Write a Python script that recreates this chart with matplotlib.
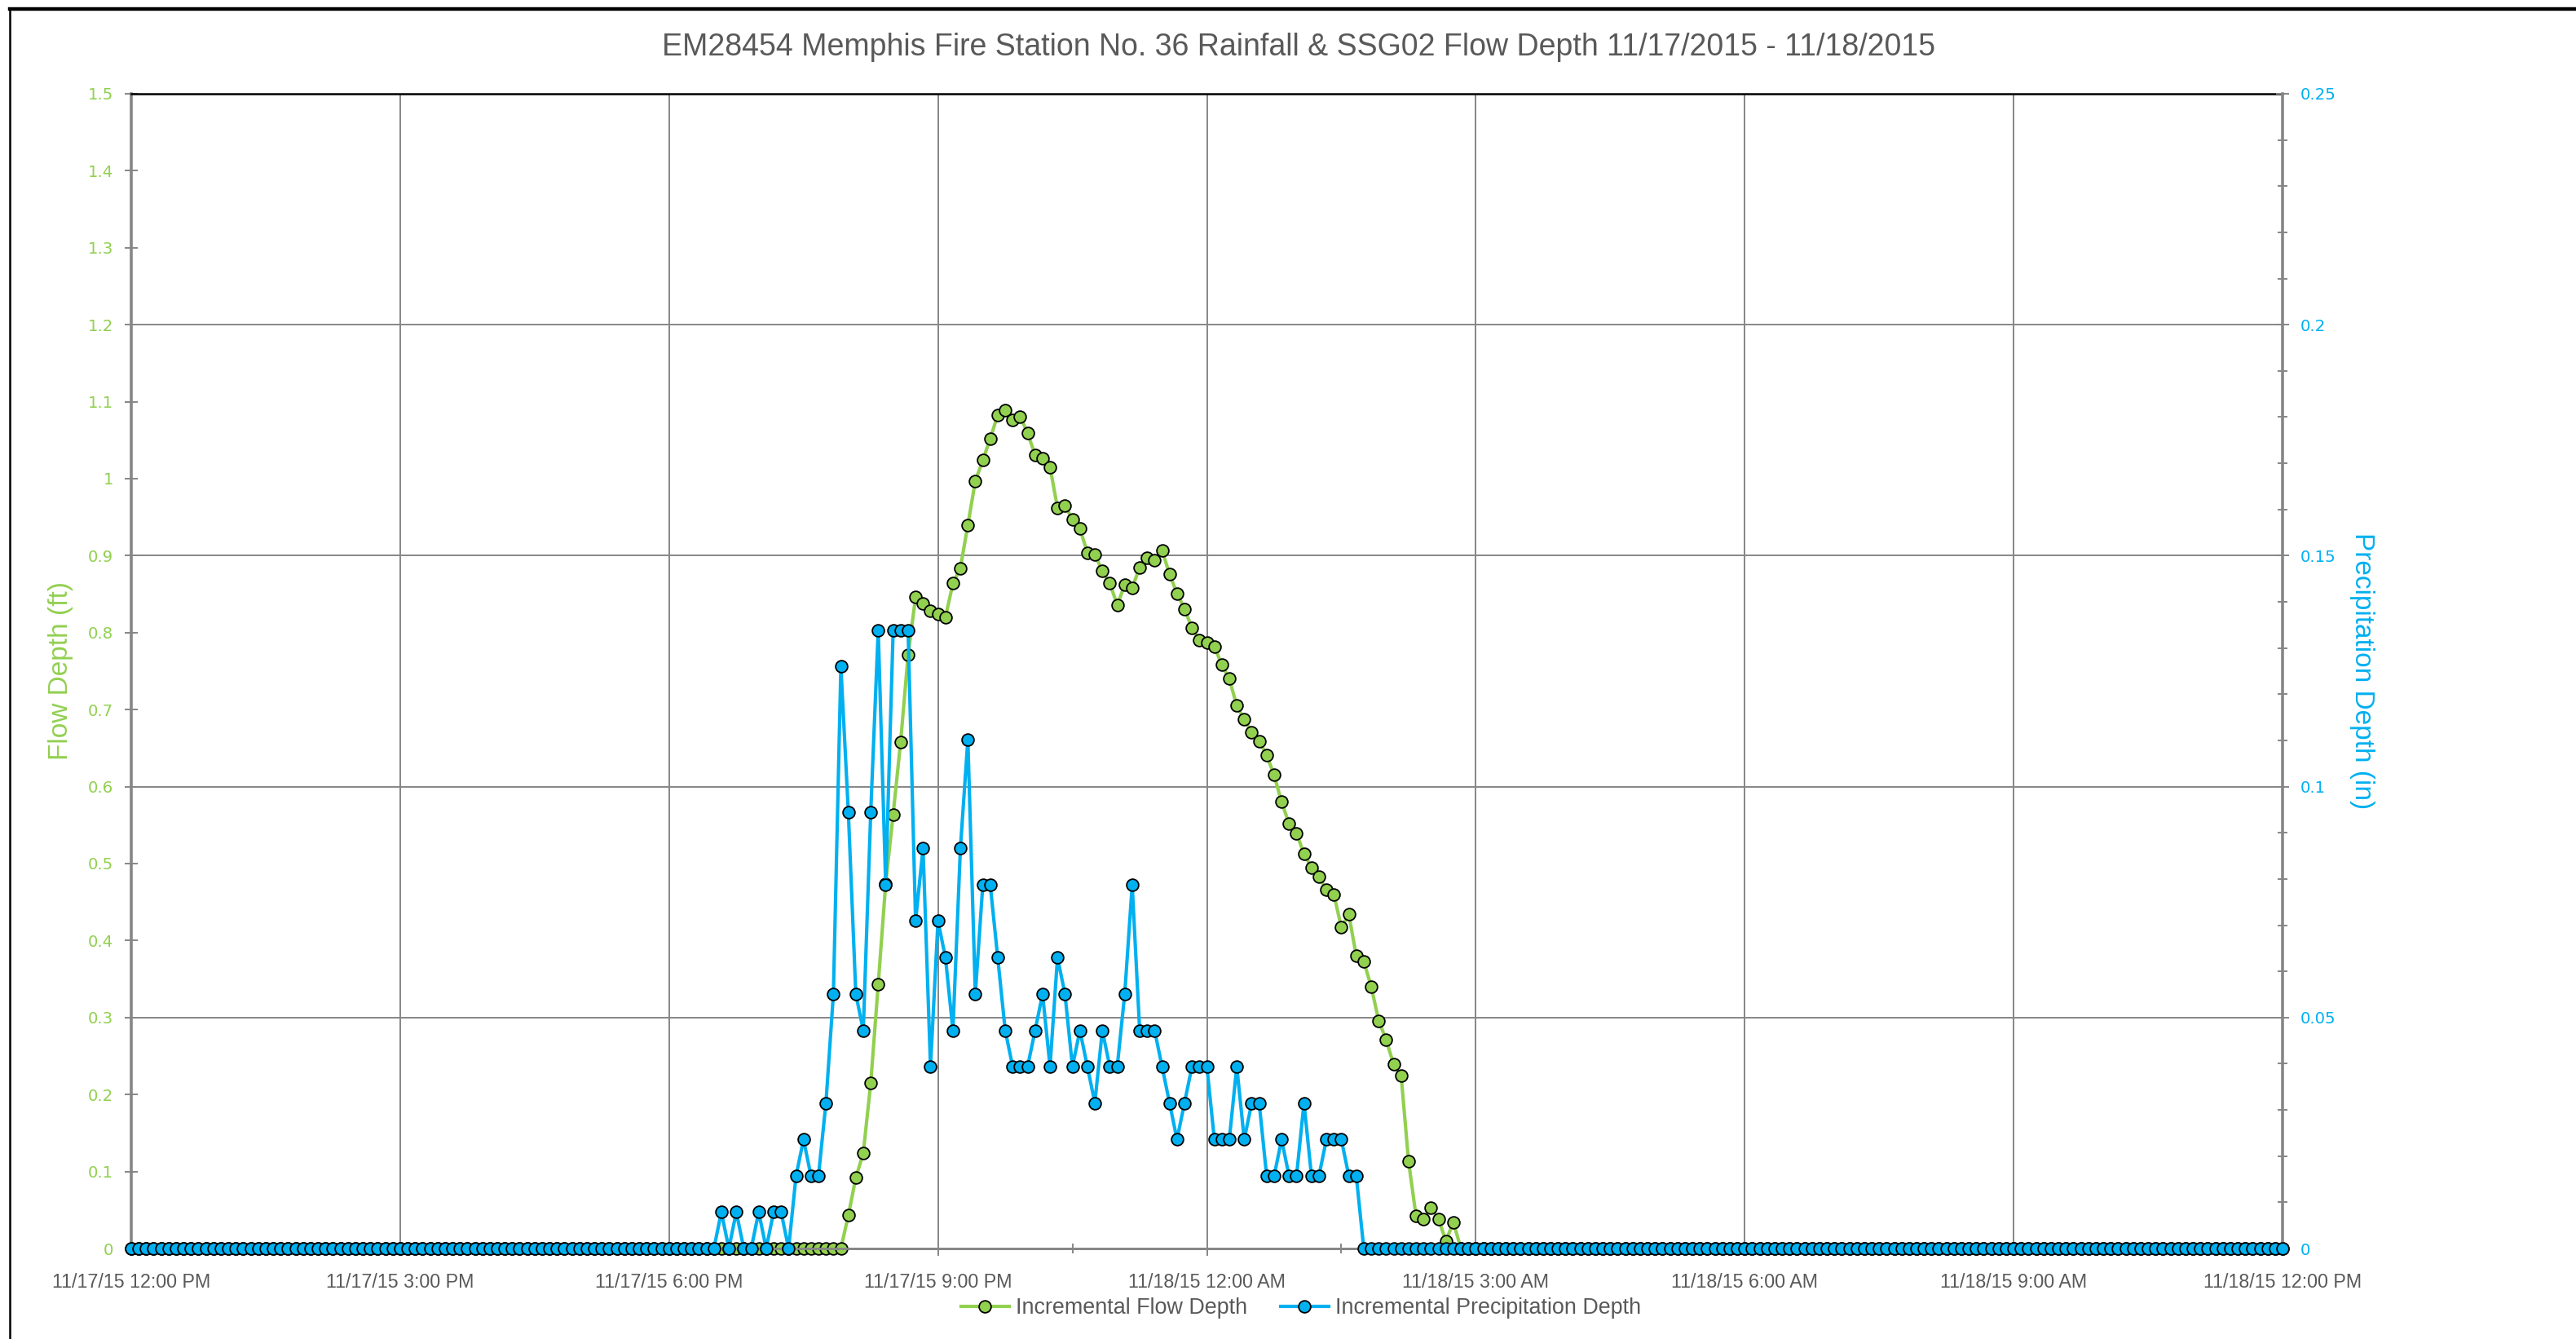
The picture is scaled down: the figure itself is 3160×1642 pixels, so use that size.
import matplotlib as mpl
import numpy as np
import pandas as pd

mpl.use('Agg')
from matplotlib import pyplot as plt
from matplotlib import font_manager
from matplotlib.ticker import MultipleLocator, FuncFormatter
from matplotlib.lines import Line2D

# 5-minute record, 11/17/15 12:00 PM -> 11/18/15 12:00 PM
t_start = '2015-11-17 12:00'
t_end = '2015-11-18 12:00'

# flow depth (ft), first non-zero reading at 8:00 PM, zero otherwise
flow_start = '2015-11-17 20:00'
flow_event = [
    0.043, 0.092, 0.124, 0.215, 0.343, 0.474, 0.564, 0.658, 0.771, 0.846,
    0.838, 0.828, 0.824, 0.820, 0.864, 0.884, 0.940, 0.997, 1.024, 1.052,
    1.083, 1.089, 1.076, 1.081, 1.059, 1.031, 1.027, 1.015, 0.962, 0.965,
    0.947, 0.935, 0.904, 0.902, 0.880, 0.864, 0.836, 0.862, 0.858, 0.885,
    0.897, 0.894, 0.907, 0.876, 0.851, 0.831, 0.806, 0.790, 0.787, 0.782,
    0.758, 0.740, 0.705, 0.687, 0.671, 0.659, 0.641, 0.615, 0.580, 0.552,
    0.539, 0.513, 0.495, 0.483, 0.466, 0.460, 0.417, 0.434, 0.380, 0.373,
    0.340, 0.296, 0.271, 0.239, 0.225, 0.113, 0.042, 0.038, 0.053, 0.038,
    0.010, 0.034,
]

# precipitation depth (in), first reading at 6:35 PM, zero otherwise
rain_start = '2015-11-17 18:35'
rain_event = [
    0.0079, 0.0, 0.0079, 0.0, 0.0, 0.0079, 0.0, 0.0079, 0.0079, 0.0,
    0.0157, 0.0236, 0.0157, 0.0157, 0.0315, 0.0551, 0.1260, 0.0945, 0.0551, 0.0472,
    0.0945, 0.1339, 0.0787, 0.1339, 0.1339, 0.1339, 0.0709, 0.0866, 0.0394, 0.0709,
    0.0630, 0.0472, 0.0866, 0.1102, 0.0551, 0.0787, 0.0787, 0.0630, 0.0472, 0.0394,
    0.0394, 0.0394, 0.0472, 0.0551, 0.0394, 0.0630, 0.0551, 0.0394, 0.0472, 0.0394,
    0.0315, 0.0472, 0.0394, 0.0394, 0.0551, 0.0787, 0.0472, 0.0472, 0.0472, 0.0394,
    0.0315, 0.0236, 0.0315, 0.0394, 0.0394, 0.0394, 0.0236, 0.0236, 0.0236, 0.0394,
    0.0236, 0.0315, 0.0315, 0.0157, 0.0157, 0.0236, 0.0157, 0.0157, 0.0315, 0.0157,
    0.0157, 0.0236, 0.0236, 0.0236, 0.0157, 0.0157,
]

x_labels = ['11/17/15 12:00 PM', '11/17/15 3:00 PM', '11/17/15 6:00 PM',
            '11/17/15 9:00 PM', '11/18/15 12:00 AM', '11/18/15 3:00 AM',
            '11/18/15 6:00 AM', '11/18/15 9:00 AM', '11/18/15 12:00 PM']

title = ('EM28454 Memphis Fire Station No. 36 Rainfall & SSG02 Flow Depth '
         '11/17/2015 - 11/18/2015')

GREEN = '#92D050'
BLUE = '#00B0F0'
GRID = '#868686'
TEXT = '#595959'

names = {f.name for f in font_manager.fontManager.ttflist}
narrow = 'Liberation Sans Narrow' if 'Liberation Sans Narrow' in names else 'Liberation Sans'


def full_series(start, values, index):
    s = pd.Series(values, index=pd.date_range(start, periods=len(values), freq='5min'))
    return s.reindex(index, fill_value=0.0)


times = pd.date_range(t_start, t_end, freq='5min')
flow = full_series(flow_start, flow_event, times)
rain = full_series(rain_start, rain_event, times)

fig = plt.figure(figsize=(15.8, 8.21), dpi=200)
ax1 = fig.add_axes([161 / 3160, 1 - 1531 / 1642, (2800 - 161) / 3160, (1531 - 115) / 1642])
ax2 = ax1.twinx()

mk = dict(marker='o', markersize=5.3, markeredgecolor='black', markeredgewidth=0.65,
          linewidth=1.5, clip_on=False)
l1, = ax1.plot(times, flow.values, color=GREEN, markerfacecolor=GREEN, zorder=3, **mk)
l2, = ax2.plot(times, rain.values, color=BLUE, markerfacecolor=BLUE, zorder=3, **mk)

ax1.set_xlim(times[0], times[-1])
ax1.set_ylim(0, 1.5)
ax2.set_ylim(0, 0.25)

# horizontal gridlines follow the precipitation major ticks (0.05 in = 0.3 ft)
for y in [0.3, 0.6, 0.9, 1.2]:
    ax1.axhline(y, color=GRID, linewidth=0.7, zorder=0)

ticks = pd.date_range(t_start, t_end, freq='3h')
ax1.set_xticks(ticks)
ax1.set_xticklabels(x_labels, fontsize=8.4, color=TEXT, family=narrow)
ax1.set_xticks(pd.date_range('2015-11-17 13:30', periods=8, freq='3h'), minor=True)
ax1.grid(axis='x', color=GRID, linewidth=0.7, zorder=0)
ax1.tick_params(axis='x', which='major', direction='out', length=3.2, width=0.7,
                color=GRID, pad=7.5)
ax1.tick_params(axis='x', which='minor', direction='inout', length=4.5, width=0.7,
                color=GRID)

fmt = FuncFormatter(lambda v, p: '%g' % round(v, 3))
ax1.yaxis.set_major_locator(MultipleLocator(0.1))
ax1.yaxis.set_major_formatter(fmt)
ax1.tick_params(axis='y', direction='inout', length=5.8, width=0.7, color=GRID,
                labelcolor=GREEN, labelsize=7.1, pad=5)

ax2.yaxis.set_major_locator(MultipleLocator(0.05))
ax2.yaxis.set_minor_locator(MultipleLocator(0.01))
ax2.yaxis.set_major_formatter(fmt)
ax2.tick_params(axis='y', which='major', direction='inout', length=5.8, width=0.7,
                color=GRID, labelcolor=BLUE, labelsize=7.1, pad=5)
ax2.tick_params(axis='y', which='minor', direction='inout', length=4.3, width=0.7,
                color=GRID)

for sp in ['left', 'right', 'bottom']:
    ax1.spines[sp].set_color(GRID)
    ax2.spines[sp].set_color(GRID)
ax1.spines['left'].set_linewidth(1.3)
ax2.spines['right'].set_linewidth(1.3)
ax1.spines['bottom'].set_linewidth(1.0)
ax2.spines['bottom'].set_linewidth(1.0)
ax1.spines['top'].set_color('black')
ax1.spines['top'].set_linewidth(0.9)
ax2.spines['top'].set_visible(False)
ax2.spines['left'].set_visible(False)
ax1.spines['right'].set_visible(False)

fig.text(0.0237, 0.499, 'Flow Depth (ft)', rotation=90, ha='center', va='center',
         color=GREEN, fontsize=12, family=narrow)
fig.text(0.917, 0.499, 'Precipitation Depth (in)', rotation=270, ha='center', va='center',
         color=BLUE, fontsize=12, family=narrow)
fig.text(0.504, 1 - 58 / 1642, title, ha='center', va='center', color=TEXT,
         fontsize=13.5, family=narrow)

fig.legend([l1, l2], ['Incremental Flow Depth', 'Incremental Precipitation Depth'],
           loc='center', bbox_to_anchor=(0.505, 1 - 1604 / 1642), ncol=2, frameon=False,
           handlelength=2.2, handletextpad=0.3, columnspacing=1.5,
           prop={'family': narrow, 'size': 9.7}, labelcolor=TEXT)

# chart area border (runs past the right and bottom edges of the image)
fig.add_artist(Line2D([12 / 3160, 1], [1 - 11 / 1642] * 2, transform=fig.transFigure,
                      color='black', linewidth=1.6))
fig.add_artist(Line2D([12 / 3160] * 2, [0, 1 - 11 / 1642], transform=fig.transFigure,
                      color='black', linewidth=0.9))

fig.savefig('out.png', dpi=200, facecolor='white')
